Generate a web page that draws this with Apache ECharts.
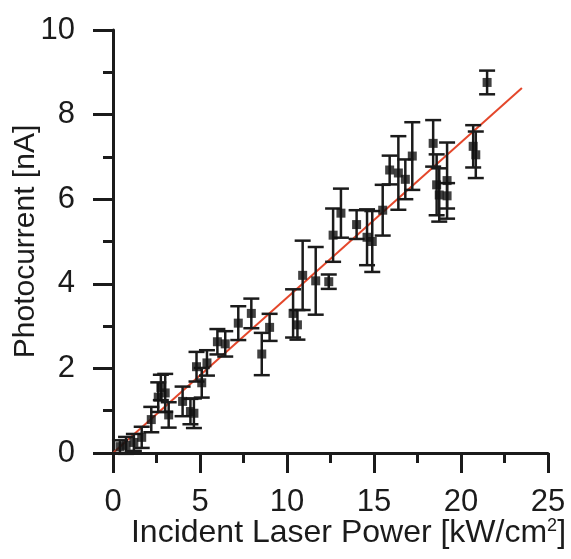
<!DOCTYPE html>
<html>
<head>
<meta charset="utf-8">
<script src="https://cdn.jsdelivr.net/npm/echarts@6/dist/echarts.min.js"></script>
<style>
  html, body { margin: 0; padding: 0; background: #ffffff; }
  #chart { width: 571px; height: 559px; }
</style>
</head>
<body>
<div id="chart"></div>
<script>
// Measured photocurrent vs. incident laser power, with error bars
const powerX = [0.4, 0.75, 1.2, 1.65, 2.2, 2.6, 2.75, 3.0, 3.2, 4.0, 4.45, 4.65, 4.8, 5.1, 5.4,
  6.0, 6.45, 7.2, 7.95, 8.55, 9.0, 10.35, 10.6, 10.9, 11.65, 12.4, 12.65, 13.1, 14.0, 14.6,
  14.9, 15.5, 15.9, 16.4, 16.8, 17.2, 18.4, 18.6, 18.75, 19.2, 19.2, 20.7, 20.85, 21.5];
const currentY = [0.15, 0.18, 0.25, 0.37, 0.79, 1.32, 1.55, 1.42, 0.90, 1.22, 0.98, 0.94, 2.04, 1.66, 2.13,
  2.63, 2.58, 3.07, 3.30, 2.34, 2.97, 3.30, 3.03, 4.20, 4.07, 4.05, 5.15, 5.67, 5.40, 5.10,
  5.00, 5.74, 6.69, 6.62, 6.47, 7.02, 7.32, 6.34, 6.10, 6.44, 6.08, 7.25, 7.05, 8.76];
const currentErr = [0.15, 0.2, 0.2, 0.25, 0.3, 0.35, 0.3, 0.45, 0.3, 0.35, 0.3, 0.35, 0.35, 0.35, 0.3,
  0.3, 0.3, 0.4, 0.35, 0.5, 0.32, 0.57, 0.35, 0.82, 0.8, 0.17, 0.63, 0.58, 0.34, 0.66,
  0.72, 0.6, 0.34, 0.87, 0.47, 0.8, 0.55, 0.72, 0.63, 0.9, 0.3, 0.5, 0.55, 0.28];

// Linear fit endpoints
const fitX = [0, 23.5];
const fitY = [0, 8.63];

const xTicks = { min: 0, max: 25, interval: 5 };
const yTicks = { min: 0, max: 10, interval: 2 };

const ink = '#1b1b1b';
const font = "'Liberation Sans', Arial, sans-serif";

const points = powerX.map((x, i) => [x, currentY[i], currentErr[i]]);
const fitLine = fitX.map((x, i) => [x, fitY[i]]);

const chart = echarts.init(document.getElementById('chart'), null, { renderer: 'canvas' });

function axisCommon() {
  return {
    type: 'value',
    splitLine: { show: false },
    nameMoveOverlap: false,
    axisLine: { show: true, onZero: false, lineStyle: { color: ink, width: 3 } },
    axisTick: { show: true, inside: false, length: 20, lineStyle: { color: ink, width: 3 } },
    minorTick: { show: true, splitNumber: 2, length: 10, lineStyle: { color: ink, width: 3 } },
    minorSplitLine: { show: false }
  };
}

chart.setOption({
  animation: false,
  backgroundColor: '#ffffff',
  grid: { left: 113, right: 23, top: 30, bottom: 106, containLabel: false, outerBoundsMode: 'none' },
  xAxis: Object.assign(axisCommon(), {
    min: xTicks.min, max: xTicks.max, interval: xTicks.interval,
    axisLabel: { margin: 34, fontSize: 31, color: ink, fontFamily: font },
    name: 'Incident Laser Power [kW/cm{sup|2}]',
    nameLocation: 'middle',
    nameGap: 64,
    nameTextStyle: {
      fontSize: 32, color: ink, fontFamily: font, padding: [0, 0, 0, 36],
      rich: { sup: { fontSize: 18, verticalAlign: 'top', padding: [0, 0, 13, 0], fontFamily: font, color: ink } }
    }
  }),
  yAxis: Object.assign(axisCommon(), {
    min: yTicks.min, max: yTicks.max, interval: yTicks.interval,
    axisLabel: { margin: 38, fontSize: 31, color: ink, fontFamily: font },
    name: 'Photocurrent [nA]',
    nameLocation: 'middle',
    nameGap: 72,
    nameTextStyle: { fontSize: 30, color: ink, fontFamily: font }
  }),
  series: [
    {
      type: 'line',
      data: fitLine,
      symbol: 'none',
      z: 1,
      lineStyle: { color: '#e4472b', width: 2 }
    },
    {
      type: 'custom',
      data: points,
      z: 2,
      renderItem: function (params, api) {
        const x = api.value(0), y = api.value(1), e = api.value(2);
        const top = api.coord([x, y + e]);
        const bot = api.coord([x, y - e]);
        const hw = 8;
        const st = { stroke: ink, lineWidth: 2.5 };
        return {
          type: 'group',
          children: [
            { type: 'line', shape: { x1: top[0], y1: top[1], x2: bot[0], y2: bot[1] }, style: st },
            { type: 'line', shape: { x1: top[0] - hw, y1: top[1], x2: top[0] + hw, y2: top[1] }, style: st },
            { type: 'line', shape: { x1: bot[0] - hw, y1: bot[1], x2: bot[0] + hw, y2: bot[1] }, style: st }
          ]
        };
      }
    },
    {
      type: 'scatter',
      data: points.map(p => [p[0], p[1]]),
      symbol: 'rect',
      symbolSize: 9,
      z: 3,
      itemStyle: { color: '#111111' }
    }
  ]
});
</script>
</body>
</html>
